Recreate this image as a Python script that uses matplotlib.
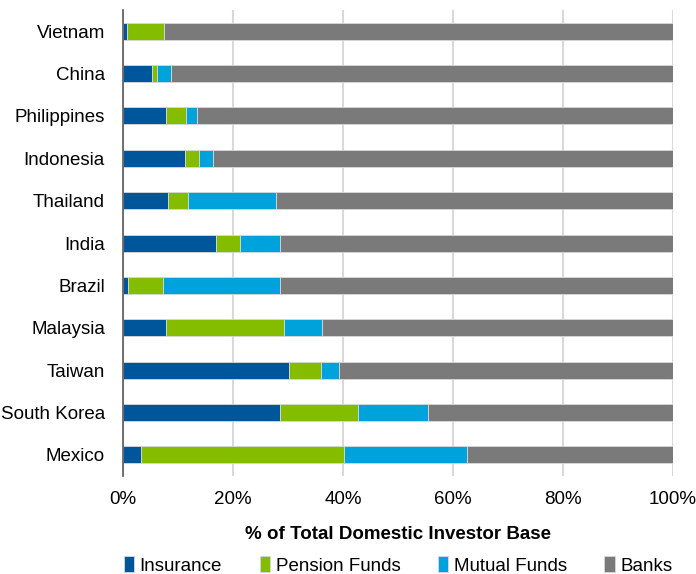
import matplotlib
matplotlib.use("Agg")
import matplotlib.pyplot as plt
import numpy as np

plt.rcParams['font.family'] = ['Liberation Sans Narrow', 'Liberation Sans', 'DejaVu Sans']

countries = ["Vietnam", "China", "Philippines", "Indonesia", "Thailand", "India",
             "Brazil", "Malaysia", "Taiwan", "South Korea", "Mexico"]
# shares in % of total domestic investor base
insurance = [0.8, 5.3, 7.8, 11.2, 8.1, 16.9, 0.85, 7.8, 30.2, 28.5, 3.3]
pension = [6.7, 0.9, 3.7, 2.6, 3.7, 4.3, 6.45, 21.4, 5.9, 14.3, 36.9]
mutual = [0.0, 2.6, 2.0, 2.5, 16.1, 7.4, 21.3, 7.0, 3.1, 12.6, 22.4]
banks = [100 - a - b - c for a, b, c in zip(insurance, pension, mutual)]

series = [("Insurance", insurance, "#00569A"),
          ("Pension Funds", pension, "#84BC00"),
          ("Mutual Funds", mutual, "#00A2DC"),
          ("Banks", banks, "#7A7A7A")]

fs = 13.5

fig = plt.figure(figsize=(6.96, 5.74), dpi=100)
ax = fig.add_axes([0.1767, 0.1707, 0.790, 0.8118])

y = np.arange(len(countries))
left = np.zeros(len(countries))
for name, vals, col in series:
    ax.barh(y, vals, left=left, height=0.4, color=col, label=name,
            edgecolor="#d8d8d8", linewidth=0.6, zorder=3)
    left += np.array(vals)

ax.set_ylim(len(countries) - 0.5, -0.5)
ax.set_xlim(0, 100)
ax.set_yticks(y)
ax.set_yticklabels(countries, fontsize=fs)
ax.set_xticks([0, 20, 40, 60, 80, 100])
ax.set_xticklabels(["0%", "20%", "40%", "60%", "80%", "100%"], fontsize=fs)
ax.tick_params(axis="y", length=0, pad=13)
ax.tick_params(axis="x", length=0, pad=11)
ax.grid(axis="x", color="#d9d9d9", linewidth=1.5, zorder=0)
for s in ["top", "right", "bottom"]:
    ax.spines[s].set_visible(False)
ax.spines["left"].set_color("#595959")
ax.spines["left"].set_linewidth(1.2)
ax.spines["left"].set_zorder(4)

ax.set_xlabel("% of Total Domestic Investor Base", fontsize=fs, fontweight="bold", labelpad=13)

fig.legend(loc="center", bbox_to_anchor=(0.572, 0.015), ncol=4, frameon=False,
           fontsize=fs, handlelength=0.55, handleheight=0.9, handletextpad=0.3,
           columnspacing=2.0)

fig.savefig("out.png", dpi=100)
